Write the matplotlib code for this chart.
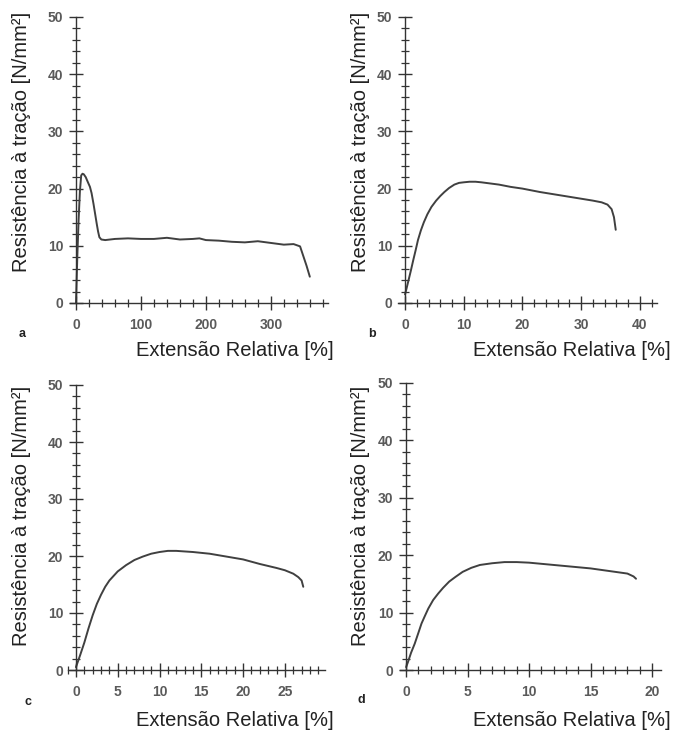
import matplotlib
matplotlib.use("Agg")
import matplotlib.pyplot as plt
from matplotlib.ticker import MultipleLocator

plt.rcParams['font.family'] = ['Liberation Sans', 'DejaVu Sans']

# curve a
a_x = [0, 2, 4, 6, 8, 10, 12, 15, 18, 21.5, 24, 27, 30, 32, 34, 36, 39, 45, 60, 80,
       100, 120, 140, 160, 180, 190, 200, 220, 240, 260, 280, 300, 320, 335, 345,
       350, 355, 360]
a_y = [0, 8, 14.5, 19.5, 22.3, 22.6, 22.5, 22.0, 21.2, 20.3, 19.2, 17.3, 15.2, 13.8,
       12.5, 11.5, 11.1, 11.0, 11.2, 11.3, 11.2, 11.2, 11.4, 11.1, 11.2, 11.3, 11.0,
       10.9, 10.7, 10.6, 10.8, 10.5, 10.2, 10.3, 9.9, 8.2, 6.5, 4.6]

# curve b
b_x = [0, 0.2, 0.6, 1, 1.4, 1.8, 2.2, 2.7, 3.2, 3.8, 4.5, 5.3, 6, 6.7, 7.5, 8.4, 9.2,
       10, 11, 12, 13, 14.5, 16, 18, 20, 23, 26, 29, 32, 33.5, 34.5, 35.2, 35.6, 35.9]
b_y = [1.5, 2.3, 4.0, 5.7, 7.5, 9.2, 11.0, 12.7, 14.1, 15.5, 16.8, 17.9, 18.7, 19.4,
       20.1, 20.7, 21.0, 21.1, 21.2, 21.2, 21.1, 20.9, 20.7, 20.3, 20.0, 19.4, 18.9,
       18.4, 17.9, 17.6, 17.2, 16.4, 15.0, 12.8]

# curve c
c_x = [0, 0.5, 1, 1.5, 2, 2.5, 3, 3.5, 4, 5, 6, 7, 8, 9, 10, 11, 12, 14, 16, 18, 20,
       22, 24, 25, 26, 26.6, 27, 27.2]
c_y = [0.5, 2.6, 4.8, 7.3, 9.6, 11.6, 13.2, 14.6, 15.7, 17.3, 18.4, 19.3, 19.9, 20.4,
       20.7, 20.9, 20.9, 20.7, 20.4, 19.9, 19.4, 18.6, 17.9, 17.5, 16.9, 16.3, 15.7,
       14.6]

# curve d
d_x = [0, 0.15, 0.4, 0.7, 1, 1.25, 1.5, 1.8, 2.2, 2.6, 3, 3.5, 4, 4.6, 5.3, 6, 7, 8,
       9, 10, 11, 12, 13, 14, 15, 16, 17, 18, 18.5, 18.7]
d_y = [0.5, 1.4, 3.0, 4.6, 6.5, 8.1, 9.3, 10.7, 12.2, 13.3, 14.3, 15.4, 16.2, 17.1,
       17.8, 18.3, 18.6, 18.8, 18.8, 18.7, 18.5, 18.3, 18.1, 17.9, 17.7, 17.4, 17.1,
       16.8, 16.3, 15.9]

ylabel = "Resistência à tração [N/mm²]"
xlabel = "Extensão Relativa [%]"

W, H = 676, 731
fig = plt.figure(figsize=(W / 100, H / 100), dpi=100)

axcol = '#333333'
ticklab = '#5a5a5a'


def panel(xs, ys, box, xlim, xmaj, xmin, letter, lab_pos, let_pos, ylab_pos):
    left, right, top, bottom = box
    ax = fig.add_axes([left / W, 1 - bottom / H, (right - left) / W, (bottom - top) / H])
    ax.plot(xs, ys, color='#404040', lw=1.4, solid_capstyle='round',
            solid_joinstyle='round')
    ax.set_xlim(*xlim)
    ax.set_ylim(0, 50)
    ax.spines['top'].set_visible(False)
    ax.spines['right'].set_visible(False)
    ax.spines['left'].set_position(('data', 0))
    for s in ('left', 'bottom'):
        ax.spines[s].set_color(axcol)
        ax.spines[s].set_linewidth(1.0)
    ax.xaxis.set_major_locator(MultipleLocator(xmaj))
    ax.xaxis.set_minor_locator(MultipleLocator(xmin))
    ax.yaxis.set_major_locator(MultipleLocator(10))
    ax.yaxis.set_minor_locator(MultipleLocator(2))
    ax.tick_params(which='major', direction='inout', length=9.4, width=1.0,
                   color=axcol, labelcolor=ticklab, labelsize=10)
    ax.tick_params(which='minor', direction='inout', length=5.5, width=0.9, color=axcol)
    ax.tick_params(axis='x', which='major', pad=6)
    ax.tick_params(axis='y', which='major', pad=4.5)
    for t in ax.get_xticklabels() + ax.get_yticklabels():
        t.set_fontweight('bold')
    ax.patch.set_alpha(0)
    fig.text(lab_pos[0] / W, 1 - lab_pos[1] / H, xlabel, ha='right', va='center',
             fontsize=14.5, color='#222222')
    fig.text(let_pos[0] / W, 1 - let_pos[1] / H, letter, ha='center', va='center',
             fontsize=9, fontweight='bold', color='#222222')
    fig.text(ylab_pos[0] / W, 1 - ylab_pos[1] / H, ylabel, ha='center', va='center',
             rotation=90, fontsize=14.5, color='#222222')
    return ax


panel(a_x, a_y, (69.5, 328, 17, 303), (-10, 388), 100, 20, 'a',
      (334, 350), (22, 334), (22, 142))
panel(b_x, b_y, (398, 657.4, 17, 303), (-1.2, 43), 10, 2, 'b',
      (671, 350), (372, 334), (360, 142))
panel(c_x, c_y, (67.6, 325, 385, 670), (-1, 29.8), 5, 1, 'c',
      (334, 720), (28, 702), (22, 516))
panel(d_x, d_y, (400, 660.6, 383, 670), (-0.5, 20.7), 5, 1, 'd',
      (671, 720), (361, 700), (361, 516))

fig.savefig('out.png', dpi=100)
